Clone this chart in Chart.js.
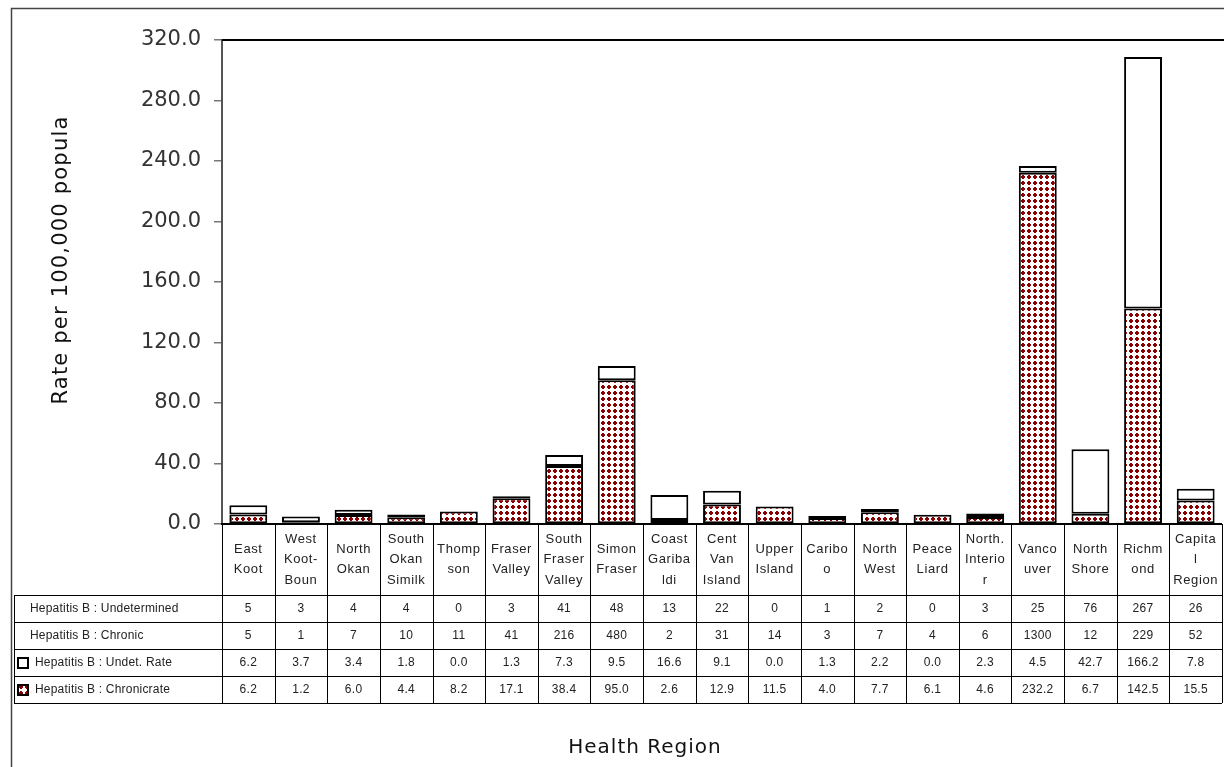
<!DOCTYPE html>
<html>
<head>
<meta charset="utf-8">
<script src="https://cdn.jsdelivr.net/npm/chart.js@4/dist/chart.umd.min.js"></script>
<style>
  html, body { margin: 0; padding: 0; background: #fff; }
  #wrap { width: 1224px; height: 767px; }
</style>
</head>
<body>
<div id="wrap"><canvas id="c" width="1224" height="767"></canvas></div>
<script>
// Health regions (label lines as printed under each column)
const regionLines = [
  ["East", "Koot"], ["West", "Koot-", "Boun"], ["North", "Okan"], ["South", "Okan", "Similk"],
  ["Thomp", "son"], ["Fraser", "Valley"], ["South", "Fraser", "Valley"], ["Simon", "Fraser"],
  ["Coast", "Gariba", "ldi"], ["Cent", "Van", "Island"], ["Upper", "Island"], ["Caribo", "o"],
  ["North", "West"], ["Peace", "Liard"], ["North.", "Interio", "r"], ["Vanco", "uver"],
  ["North", "Shore"], ["Richm", "ond"], ["Capita", "l", "Region"]
];
const categories = regionLines.map(l => l.join(" "));

// Case counts
const undeterminedCounts = [5, 3, 4, 4, 0, 3, 41, 48, 13, 22, 0, 1, 2, 0, 3, 25, 76, 267, 26];
const chronicCounts = [5, 1, 7, 10, 11, 41, 216, 480, 2, 31, 14, 3, 7, 4, 6, 1300, 12, 229, 52];

// Rates per 100,000 population
const undetRate = [6.2, 3.7, 3.4, 1.8, 0.0, 1.3, 7.3, 9.5, 16.6, 9.1, 0.0, 1.3, 2.2, 0.0, 2.3, 4.5, 42.7, 166.2, 7.8];
const chronicRate = [6.2, 1.2, 6.0, 4.4, 8.2, 17.1, 38.4, 95.0, 2.6, 12.9, 11.5, 4.0, 7.7, 6.1, 4.6, 232.2, 6.7, 142.5, 15.5];

// Value axis
const yMin = 0, yMax = 320, yStep = 40;

const seriesNames = {
  undetCount: "Hepatitis B : Undetermined",
  chronicCount: "Hepatitis B : Chronic",
  undetRate: "Hepatitis B : Undet. Rate",
  chronicRate: "Hepatitis B : Chronicrate"
};
const yTitle = "Rate per 100,000 popula";
const xTitle = "Health Region";

const canvas = document.getElementById("c");
const mainCtx = canvas.getContext("2d");

// Dark red dotted fill used for the chronic-rate bars
function makeDotPattern() {
  const t = document.createElement("canvas");
  t.width = 6; t.height = 6;
  const g = t.getContext("2d");
  g.fillStyle = "#ffffff";
  g.fillRect(0, 0, 6, 6);
  g.fillStyle = "#8b0000";
  g.fillRect(2, 1, 2, 4);
  g.fillRect(1, 2, 4, 2);
  return mainCtx.createPattern(t, "repeat");
}
const dotFill = makeDotPattern();

const FONT = "'Liberation Sans', Arial, sans-serif";
const TITLE_FONT = "'DejaVu Sans', Verdana, sans-serif";

// Frame, axis lines, the data table and the axis titles
const tablePlugin = {
  id: "dataTable",
  afterDraw(chart) {
    const ctx = chart.ctx;
    const a = chart.chartArea;
    const n = categories.length;
    const colW = (a.right - a.left) / n;
    const W = chart.width;
    const labelRowH = 71;
    const rowH = 27;
    const tableTop = a.bottom + labelRowH;
    const tableLeft = 14;
    const rowYs = [0, 1, 2, 3, 4].map(k => tableTop + k * rowH);

    ctx.save();

    // outer frame
    ctx.strokeStyle = "#444";
    ctx.lineWidth = 1.5;
    ctx.beginPath();
    ctx.moveTo(11.5, chart.height);
    ctx.lineTo(11.5, 8.5);
    ctx.lineTo(W, 8.5);
    ctx.stroke();

    // plot top border
    ctx.strokeStyle = "#000";
    ctx.lineWidth = 2;
    ctx.beginPath();
    ctx.moveTo(a.left, a.top);
    ctx.lineTo(W, a.top);
    ctx.stroke();

    // baseline
    ctx.beginPath();
    ctx.moveTo(a.left - 1, a.bottom);
    ctx.lineTo(a.right, a.bottom);
    ctx.stroke();

    // table grid
    ctx.lineWidth = 1;
    ctx.strokeStyle = "#000";
    ctx.beginPath();
    rowYs.forEach(y => {
      ctx.moveTo(tableLeft, Math.round(y) + 0.5);
      ctx.lineTo(a.right, Math.round(y) + 0.5);
    });
    for (let i = 0; i <= n; i++) {
      const x = Math.round(a.left + i * colW) + 0.5;
      ctx.moveTo(x, a.bottom);
      ctx.lineTo(x, rowYs[4]);
    }
    ctx.moveTo(tableLeft + 0.5, rowYs[0]);
    ctx.lineTo(tableLeft + 0.5, rowYs[4]);
    ctx.stroke();

    // category labels
    ctx.fillStyle = "#222";
    ctx.font = "13px " + FONT;
    ctx.letterSpacing = "0.6px";
    ctx.textAlign = "center";
    ctx.textBaseline = "middle";
    const midLabel = a.bottom + labelRowH / 2;
    const lineH = 20.5;
    regionLines.forEach((lines, i) => {
      const cx = a.left + (i + 0.5) * colW;
      const y0 = midLabel - (lines.length - 1) * lineH / 2;
      lines.forEach((t, k) => ctx.fillText(t, cx, y0 + k * lineH));
    });

    // table rows
    const rows = [
      { name: seriesNames.undetCount, vals: undeterminedCounts.map(String), swatch: null },
      { name: seriesNames.chronicCount, vals: chronicCounts.map(String), swatch: null },
      { name: seriesNames.undetRate, vals: undetRate.map(v => v.toFixed(1)), swatch: "#ffffff" },
      { name: seriesNames.chronicRate, vals: chronicRate.map(v => v.toFixed(1)), swatch: dotFill }
    ];
    ctx.font = "12px " + FONT;
    rows.forEach((r, k) => {
      const cy = rowYs[k] + rowH / 2 + 0.5;
      ctx.textAlign = "left";
      ctx.letterSpacing = "0.2px";
      let tx = 30;
      if (r.swatch) {
        ctx.fillStyle = r.swatch;
        ctx.fillRect(18, cy - 5, 10, 10);
        ctx.strokeStyle = "#000";
        ctx.lineWidth = 2;
        ctx.strokeRect(18, cy - 5, 10, 10);
        tx = 35;
      }
      ctx.fillStyle = "#222";
      ctx.fillText(r.name, tx, cy);
      ctx.textAlign = "center";
      ctx.letterSpacing = "0.3px";
      r.vals.forEach((v, i) => ctx.fillText(v, a.left + (i + 0.5) * colW, cy));
    });

    // axis titles
    ctx.letterSpacing = "1px";
    ctx.fillStyle = "#111";
    ctx.font = "20px " + TITLE_FONT;
    ctx.textAlign = "center";
    ctx.fillText(xTitle, 645, 748);
    ctx.save();
    ctx.font = "21px " + TITLE_FONT;
    ctx.letterSpacing = "1.2px";
    ctx.translate(62, 260);
    ctx.rotate(-Math.PI / 2);
    ctx.fillText(yTitle, 0, 0);
    ctx.restore();

    ctx.restore();
  }
};

new Chart(canvas, {
  type: "bar",
  data: {
    labels: categories,
    datasets: [
      {
        label: seriesNames.chronicRate,
        data: chronicRate,
        backgroundColor: dotFill,
        borderColor: "#000",
        borderWidth: 2,
        borderSkipped: false
      },
      {
        label: seriesNames.undetRate,
        data: undetRate,
        backgroundColor: "#ffffff",
        borderColor: "#000",
        borderWidth: 2,
        borderSkipped: false
      }
    ]
  },
  options: {
    responsive: false,
    animation: false,
    devicePixelRatio: 1,
    layout: { padding: { left: 0, top: 40, right: 2, bottom: 243 } },
    plugins: { legend: { display: false }, tooltip: { enabled: false }, title: { display: false } },
    datasets: { bar: { categoryPercentage: 1.0, barPercentage: 0.72 } },
    scales: {
      x: { display: false, stacked: true },
      y: {
        stacked: true,
        min: yMin,
        max: yMax,
        afterFit(scale) { scale.width = 222; },
        ticks: {
          stepSize: yStep,
          padding: 13,
          color: "#333",
          font: { family: TITLE_FONT, size: 21 },
          callback: v => Number(v).toFixed(1)
        },
        grid: { drawOnChartArea: false, tickLength: 8, color: "#777", lineWidth: 1.5 },
        border: { display: true, color: "#555", width: 2 }
      }
    }
  },
  plugins: [tablePlugin]
});
</script>
</body>
</html>
